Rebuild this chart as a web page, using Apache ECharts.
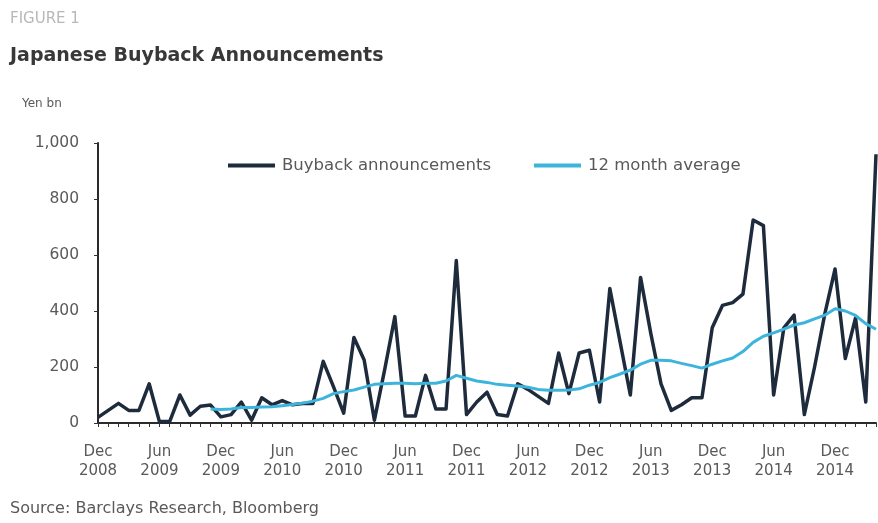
<!DOCTYPE html>
<html>
<head>
<meta charset="utf-8">
<script src="https://cdn.jsdelivr.net/npm/echarts@6/dist/echarts.min.js"></script>
<style>
  html, body { margin: 0; padding: 0; background: #ffffff; overflow: hidden; }
  #chart { width: 878px; height: 523px; }
</style>
</head>
<body>
<div id="chart"></div>
<script>
// Monthly categories, Dec 2008 to Apr 2015
const monthNames = ['Jan','Feb','Mar','Apr','May','Jun','Jul','Aug','Sep','Oct','Nov','Dec'];
const categories = [];
for (let k = 0; k < 77; k++) {
  const m = (11 + k) % 12;
  const y = 2008 + Math.floor((11 + k) / 12);
  categories.push(monthNames[m] + ' ' + y);
}

// Yen bn, monthly buyback announcements
const buybackAnnouncements = [
  20, 45, 70, 45, 45, 140, 5, 5, 100, 28, 60, 64,
  22, 30, 75, 10, 90, 65, 80, 65, 70, 70, 220, 130,
  35, 305, 225, 10, 190, 380, 25, 25, 170, 50, 50, 580,
  30, 75, 110, 30, 25, 140, 120, 95, 70, 250, 105, 250,
  260, 75, 480, 290, 100, 520, 320, 140, 45, 65, 90, 90,
  340, 420, 430, 460, 725, 705, 100, 340, 385, 30, 200, 390,
  550, 230, 375, 75, 960
];

// Yen bn, trailing 12 month average
const twelveMonthAverage = [
  null, null, null, null, null, null, null, null, null, null, null, 50,
  48, 50, 55, 55, 57, 58, 62, 66, 71, 78, 88, 105,
  112, 118, 128, 138, 140, 142, 142, 140, 142, 142, 150, 170,
  160, 150, 145, 138, 135, 132, 128, 120, 117, 117, 118, 122,
  135, 145, 162, 175, 189, 210, 224, 224, 222, 213, 205, 196,
  210, 222, 232, 255, 288, 310, 322, 335, 350, 358, 372, 385,
  408, 400, 384, 355, 335
];

const yTicks = [0, 200, 400, 600, 800, 1000];

const textColor = '#595959';
const font = '"DejaVu Sans", Verdana, sans-serif';
const darkLine = '#1e2b3c';
const cyanLine = '#3db4dc';

const chart = echarts.init(document.getElementById('chart'), null, { renderer: 'canvas' });

chart.setOption({
  backgroundColor: '#ffffff',
  animation: false,
  title: [
    { text: 'FIGURE 1', left: 10, top: 12, padding: 0,
      textStyle: { color: '#b8b8b8', fontSize: 15, fontWeight: 'normal', fontFamily: font } },
    { text: 'Japanese Buyback Announcements', left: 10, top: 47, padding: 0,
      textStyle: { color: '#383838', fontSize: 19, fontWeight: 'bold', fontFamily: font } },
    { text: 'Yen bn', left: 22, top: 98, padding: 0,
      textStyle: { color: textColor, fontSize: 12, fontWeight: 'normal', fontFamily: font } },
    { text: 'Source: Barclays Research, Bloomberg', left: 10, top: 501, padding: 0,
      textStyle: { color: textColor, fontSize: 16, fontWeight: 'normal', fontFamily: font } }
  ],
  legend: {
    left: 228, top: 157, padding: 0,
    itemWidth: 47, itemHeight: 4, itemGap: 43,
    textStyle: { color: textColor, fontSize: 16.5, fontFamily: font, padding: [0, 0, 0, 2] },
    data: [
      { name: 'Buyback announcements', icon: 'rect', itemStyle: { color: darkLine } },
      { name: '12 month average', icon: 'rect', itemStyle: { color: cyanLine } }
    ]
  },
  grid: { left: 98, right: 2, top: 143, bottom: 100, containLabel: false },
  xAxis: {
    type: 'category',
    data: categories,
    boundaryGap: false,
    axisLine: { lineStyle: { color: '#2a2a2a', width: 2 } },
    axisTick: { show: true, interval: 0, length: 4, lineStyle: { color: '#333', width: 1 } },
    axisLabel: {
      interval: 5,
      color: textColor, fontSize: 15, fontFamily: font, lineHeight: 19, margin: 20,
      formatter: v => v.replace(' ', '\n')
    },
    splitLine: { show: false }
  },
  yAxis: {
    type: 'value',
    min: yTicks[0], max: yTicks[yTicks.length - 1], interval: 200,
    axisLine: { show: true, lineStyle: { color: '#2a2a2a', width: 2 } },
    axisTick: { show: true, length: 4, lineStyle: { color: '#333' } },
    axisLabel: {
      color: textColor, fontSize: 15.5, fontFamily: font, margin: 19,
      formatter: v => v.toLocaleString('en-US')
    },
    splitLine: { show: false }
  },
  series: [
    {
      name: 'Buyback announcements',
      type: 'line',
      data: buybackAnnouncements,
      symbol: 'none',
      lineStyle: { color: darkLine, width: 3.5, join: 'round' },
      itemStyle: { color: darkLine },
      z: 2
    },
    {
      name: '12 month average',
      type: 'line',
      data: twelveMonthAverage,
      symbol: 'none',
      lineStyle: { color: cyanLine, width: 3 },
      itemStyle: { color: cyanLine },
      z: 3
    }
  ]
});
</script>
</body>
</html>
